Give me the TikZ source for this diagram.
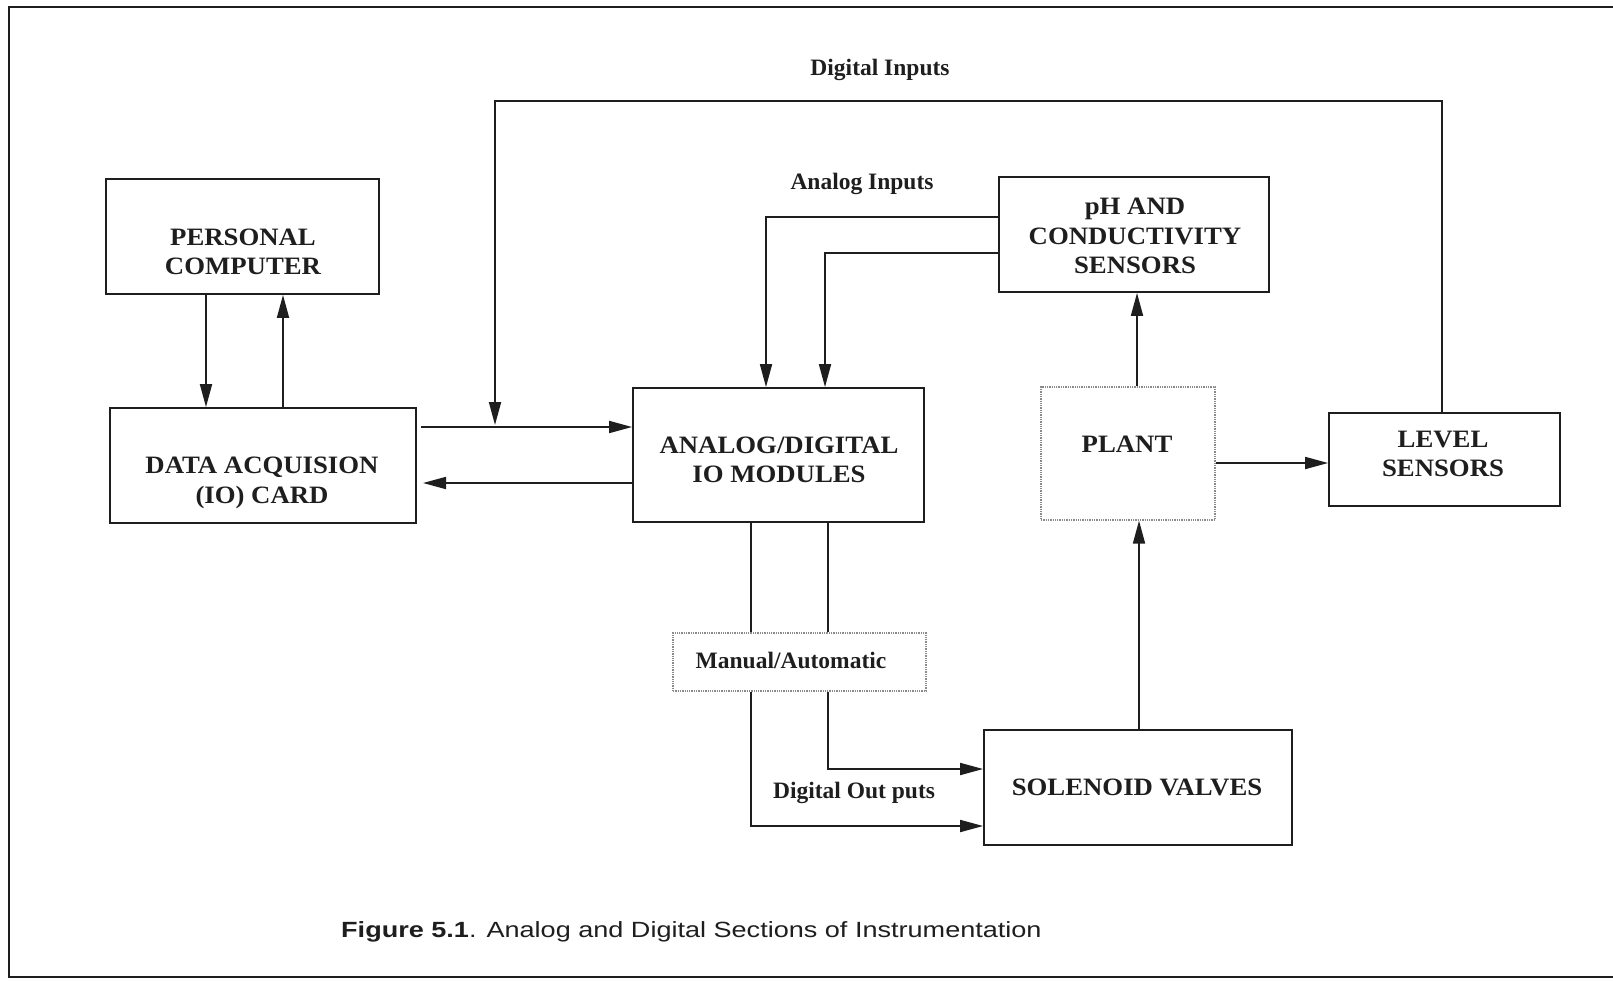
\documentclass[tikz,border=0pt]{standalone}
\usepackage{fontspec}
\setmainfont{Liberation Serif}
\newfontfamily\boxfont{Liberation Serif}[FakeStretch=1.07]
\newfontfamily\capfont{Liberation Sans}[FakeStretch=1.23]
\usetikzlibrary{arrows.meta}
\definecolor{ink}{HTML}{1E1E1E}
\definecolor{dotgray}{HTML}{8A8A8A}
\tikzset{
  box/.style={draw=ink, line width=1.8pt, rectangle, inner sep=0pt},
  dotbox/.style={draw=dotgray, line width=1.3pt, densely dotted, rectangle, inner sep=0pt},
  boxtext/.style={font=\boxfont\fontsize{25}{29.5}\selectfont\bfseries, align=center, inner sep=0pt, text=ink},
  tag/.style={font=\fontsize{23.5}{28}\selectfont\bfseries, inner sep=0pt, text=ink},
  link/.style={draw=ink, line width=1.8pt},
  arr/.style={link, -{Triangle[length=23pt,width=12pt]}},
}
\begin{document}
\begin{tikzpicture}[x=1pt,y=-1pt]
\useasboundingbox (0,0) rectangle (1613,980);
% page frame
\draw[draw=ink, line width=1.6pt] (1613,7) -- (9,7) -- (9,977) -- (1613,977);

% blocks
\node[box, minimum width=273pt, minimum height=115pt] (pc)    at (242.5,236.5) {};
\node[box, minimum width=306pt, minimum height=115pt] (daq)   at (263,465.5) {};
\node[box, minimum width=291pt, minimum height=134pt] (ad)    at (778.5,455) {};
\node[box, minimum width=270pt, minimum height=115pt] (ph)    at (1134,234.5) {};
\node[dotbox, minimum width=174pt, minimum height=133pt] (plant) at (1128,453.5) {};
\node[box, minimum width=231pt, minimum height=93pt]  (level) at (1444.5,459.5) {};
\node[box, minimum width=308pt, minimum height=115pt] (sol)   at (1138,787.5) {};
\node[dotbox, minimum width=253pt, minimum height=58pt] (ma)  at (799.5,662) {};

% block captions
\node[boxtext] (pctxt)    at (243,252)  {PERSONAL\\COMPUTER};
\node[boxtext] (daqtxt)   at (262,483)  {DATA ACQUISION\\(IO) CARD};
\node[boxtext] (adtxt)    at (779,460)  {ANALOG/DIGITAL\\IO MODULES};
\node[boxtext] (phtxt)    at (1135,236) {pH AND\\CONDUCTIVITY\\SENSORS};
\node[boxtext] (planttxt) at (1127,444) {PLANT};
\node[boxtext] (leveltxt) at (1443,454) {LEVEL\\SENSORS};
\node[boxtext] (soltxt)   at (1137,787) {SOLENOID VALVES};
\node[tag] (matxt) at (791,660) {Manual/Automatic};

% signal labels
\node[tag] (dinlbl)  at (880,70)  {Digital Inputs};
\node[tag] (ainlbl)  at (862,184) {Analog Inputs};
\node[tag] (doutlbl) at (854,793) {Digital Out puts};

% routing points
\coordinate (xdn)  at (206,0);
\coordinate (xup)  at (283,0);
\coordinate (top)  at (1442,101);
\coordinate (din)  at (495,425);
\coordinate (dq1)  at (421,427);
\coordinate (dq2)  at (423,483);
\coordinate (a1)   at (766,217);
\coordinate (a2)   at (825,253);
\coordinate (xpp)  at (1137,0);
\coordinate (xsp)  at (1139,0);
\coordinate (ypl)  at (0,463);
\coordinate (m1)   at (751,0);
\coordinate (m2)   at (828,0);
\coordinate (o1)   at (751,826);
\coordinate (o2)   at (828,769);

% computer <-> card
\draw[arr] (pc.south -| xdn) -- (daq.north -| xdn);
\draw[arr] (daq.north -| xup) -- (pc.south -| xup);

% digital inputs from the level sensors
\draw[arr] (level.north -| top) -- (top) -| (din);

% card <-> IO modules
\draw[arr] (dq1) -- (dq1 -| ad.west);
\draw[arr] (ad.west |- dq2) -- (dq2);

% analog inputs
\draw[arr] (ph.west |- a1) -| (a1 |- ad.north);
\draw[arr] (ph.west |- a2) -| (a2 |- ad.north);

% plant connections
\draw[arr] (plant.north -| xpp) -- (ph.south -| xpp);
\draw[arr] (sol.north -| xsp) -- (plant.south -| xsp);
\draw[arr] (plant.east |- ypl) -- (level.west |- ypl);

% IO modules through manual/automatic switch
\draw[link] (ad.south -| m1) -- (ma.north -| m1);
\draw[link] (ad.south -| m2) -- (ma.north -| m2);

% digital outputs to the valves
\draw[arr] (ma.south -| m2) -- (o2) -- (o2 -| sol.west);
\draw[arr] (ma.south -| m1) -- (o1) -- (o1 -| sol.west);

% figure caption
\node[anchor=base west, inner sep=0pt, font=\capfont\fontsize{22}{26}\selectfont, text=ink] (caption) at (341,937)
  {\textbf{Figure 5.1}. Analog and Digital Sections of Instrumentation};
\end{tikzpicture}
\end{document}
